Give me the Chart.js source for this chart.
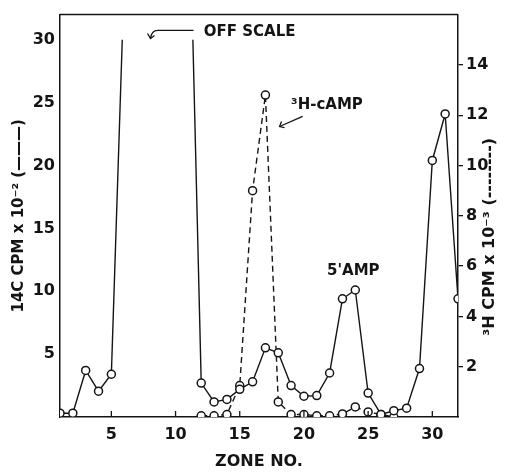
<!DOCTYPE html>
<html>
<head>
<meta charset="utf-8">
<script src="https://cdn.jsdelivr.net/npm/chart.js@4.4.0/dist/chart.umd.min.js"></script>
<style>
  html, body { margin: 0; padding: 0; background: #fff; }
  #wrap { width: 505px; height: 474px; }
</style>
</head>
<body>
<div id="wrap"><canvas id="chart"></canvas></div>
<script>
// 14C (сплошная линия, левая ось), зоны 6-11 за пределами шкалы
const c14Zones  = [1, 2, 3, 4, 5, 5.85, 8.6, 11.35, 12, 13, 14, 15, 16, 17, 18, 19, 20, 21, 22, 23, 24, 25, 26, 27, 28, 29, 30, 31, 32];
const c14Values = [0.3, 0.3, 3.7, 2.05, 3.4, 30, null, 30, 2.7, 1.2, 1.4, 2.2, 2.8, 5.5, 5.1, 2.5, 1.65, 1.7, 3.5, 9.4, 10.1, 1.9, 0.2, 0.5, 0.7, 3.85, 20.4, 24.1, 9.4];

// 3H (пунктир, правая ось)
const h3Zones  = [12, 13, 14, 15, 16, 17, 18, 19, 20, 21, 22, 23, 24, 25, 26, 27];
const h3Values = [0.05, 0.05, 0.1, 1.25, 9.0, 12.8, 0.6, 0.1, 0.1, 0.05, 0.05, 0.12, 0.4, 0.2, 0.1, 0.0];

// подписи осей
const xTicks = [5, 10, 15, 20, 25, 30];
const leftTicks = [5, 10, 15, 20, 25, 30];
const rightTicks = [2, 4, 6, 8, 10, 12, 14];
const rightTitle = '\u00B3H CPM x 10\u207B\u00B3 (--------)';

const INK = '#141414';
const FONT = "'DejaVu Sans', sans-serif";

function toPoints(xs, ys) {
    return xs.map((x, i) => ({ x: x, y: ys[i] }));
}

function fixTicks(values) {
    return function(scale) {
        scale.ticks = values.map(v => ({ value: v }));
    };
}

// рамка сверху, внутренние засечки по X и надписи
const extras = {
    id: 'extras',
    afterDraw(chart) {
        const ctx = chart.ctx;
        const area = chart.chartArea;
        const x = chart.scales.x;
        const y = chart.scales.y;
        ctx.save();
        ctx.strokeStyle = INK;
        ctx.fillStyle = INK;
        ctx.lineWidth = 1.5;

        ctx.beginPath();
        ctx.moveTo(area.left, area.top);
        ctx.lineTo(area.right, area.top);
        ctx.stroke();

        ctx.lineWidth = 1.3;
        xTicks.forEach(v => {
            const px = x.getPixelForValue(v);
            ctx.beginPath();
            ctx.moveTo(px, area.bottom);
            ctx.lineTo(px, area.bottom - 6);
            ctx.stroke();
        });

        ctx.font = 'bold 15px ' + FONT;
        ctx.textBaseline = 'middle';
        ctx.textAlign = 'left';
        ctx.fillText('OFF SCALE', x.getPixelForValue(12.2), y.getPixelForValue(30.6));
        ctx.fillText("5'AMP", x.getPixelForValue(21.8), y.getPixelForValue(11.6));
        ctx.fillText('\u00B3H-cAMP', x.getPixelForValue(19.0), y.getPixelForValue(24.8));

        // правая подпись читается снизу вверх, как левая
        ctx.save();
        ctx.font = 'bold 16px ' + FONT;
        ctx.translate(490, (area.top + area.bottom) / 2 + 21);
        ctx.rotate(-Math.PI / 2);
        ctx.textAlign = 'center';
        ctx.fillText(rightTitle, 0, 0);
        ctx.restore();

        // стрелка OFF SCALE
        const ax1 = x.getPixelForValue(11.4), ay = y.getPixelForValue(30.75);
        const ax2 = x.getPixelForValue(8.6);
        const hx = x.getPixelForValue(8.05), hy = y.getPixelForValue(30.1);
        ctx.beginPath();
        ctx.moveTo(ax1, ay);
        ctx.lineTo(ax2, ay);
        ctx.quadraticCurveTo(hx + 1, ay, hx, hy);
        ctx.stroke();
        ctx.beginPath();
        ctx.moveTo(hx - 3, hy - 5);
        ctx.lineTo(hx, hy);
        ctx.lineTo(hx + 4, hy - 3);
        ctx.stroke();

        // стрелка 3H-cAMP
        const bx1 = x.getPixelForValue(19.9), by1 = y.getPixelForValue(23.9);
        const bx2 = x.getPixelForValue(18.1), by2 = y.getPixelForValue(23.1);
        ctx.beginPath();
        ctx.moveTo(bx1, by1);
        ctx.lineTo(bx2, by2);
        ctx.stroke();
        ctx.beginPath();
        ctx.moveTo(bx2 + 2, by2 - 5);
        ctx.lineTo(bx2, by2);
        ctx.lineTo(bx2 + 5, by2 + 1);
        ctx.stroke();
        ctx.restore();
    }
};

const pointStyle = {
    pointRadius: 4,
    pointHoverRadius: 4,
    pointBackgroundColor: '#fff',
    pointBorderColor: INK,
    pointBorderWidth: 1.5,
    borderColor: INK,
    borderWidth: 1.4,
    tension: 0,
    fill: false
};

new Chart(document.getElementById('chart'), {
    type: 'line',
    data: {
        datasets: [
            Object.assign({
                label: '14C',
                data: toPoints(c14Zones, c14Values),
                yAxisID: 'y',
                spanGaps: false
            }, pointStyle, {
                pointRadius: ctx => (ctx.raw && ctx.raw.y >= 30) ? 0 : 4
            }),
            Object.assign({
                label: '3H',
                data: toPoints(h3Zones, h3Values),
                yAxisID: 'y2',
                borderDash: [6, 4]
            }, pointStyle)
        ]
    },
    options: {
        responsive: true,
        maintainAspectRatio: false,
        animation: false,
        layout: { padding: { top: 9, left: 0, right: 0, bottom: 0 } },
        plugins: {
            legend: { display: false },
            tooltip: { enabled: false }
        },
        scales: {
            x: {
                type: 'linear',
                min: 1,
                max: 32,
                afterBuildTicks: fixTicks(xTicks),
                afterFit: s => { s.height = 57; },
                grid: { display: false, drawTicks: false },
                border: { display: true, color: INK, width: 1.5 },
                ticks: {
                    color: INK,
                    padding: 8,
                    maxRotation: 0,
                    font: { family: FONT, size: 16, weight: 'bold' }
                },
                title: {
                    display: true,
                    text: 'ZONE NO.',
                    color: INK,
                    padding: { top: 0, bottom: 3 },
                    font: { family: FONT, size: 16, weight: 'bold' }
                }
            },
            y: {
                position: 'left',
                min: 0,
                max: 32,
                afterBuildTicks: fixTicks(leftTicks),
                afterFit: s => { s.width = 60; },
                grid: { display: false, drawTicks: false },
                border: { display: true, color: INK, width: 1.5 },
                ticks: {
                    color: INK,
                    padding: 5,
                    font: { family: FONT, size: 16, weight: 'bold' }
                },
                title: {
                    display: true,
                    text: '14C CPM x 10\u207B\u00B2 (\u2014\u2014\u2014)',
                    color: INK,
                    padding: { top: 10, bottom: 0 },
                    font: { family: FONT, size: 15, weight: 'bold' }
                }
            },
            y2: {
                position: 'right',
                min: 0,
                max: 16,
                afterBuildTicks: fixTicks(rightTicks),
                afterFit: s => { s.width = 47; },
                grid: { drawOnChartArea: false, drawTicks: true, tickLength: 5, color: INK, lineWidth: 1.3 },
                border: { display: true, color: INK, width: 1.5 },
                ticks: {
                    color: INK,
                    padding: 3,
                    font: { family: FONT, size: 16, weight: 'bold' }
                }
            }
        }
    },
    plugins: [extras]
});
</script>
</body>
</html>
